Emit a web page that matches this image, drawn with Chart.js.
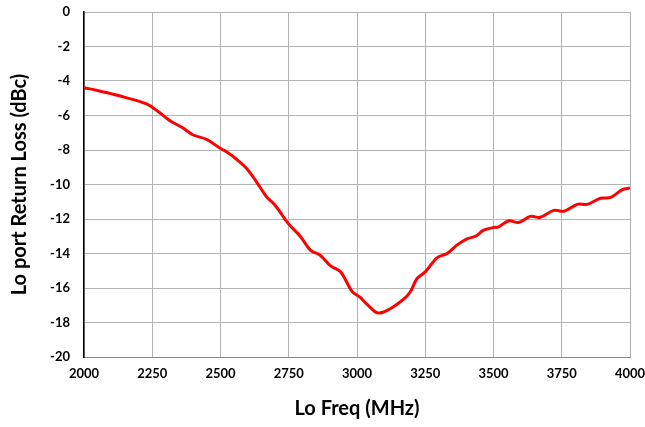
<!DOCTYPE html>
<html>
<head>
<meta charset="utf-8">
<script src="https://cdn.jsdelivr.net/npm/chart.js@4"></script>
<style>
  html, body { margin: 0; padding: 0; background: #fff; }
  #wrap { width: 645px; height: 427px; }
</style>
</head>
<body>
<div id="wrap"><canvas id="chart" width="645" height="427"></canvas></div>
<script>
// Lo port return loss vs LO frequency
const freqs = [2000, 2050, 2107, 2150, 2229, 2270, 2315, 2360, 2400, 2449, 2499, 2522, 2560, 2595, 2630, 2668,
  2700, 2750, 2792, 2829, 2865, 2902, 2939, 2957, 2982, 3012, 3037, 3077, 3122, 3171, 3196, 3220, 3251,
  3293, 3330, 3367, 3403, 3434, 3464, 3498, 3519, 3556, 3592, 3635, 3672, 3721, 3758, 3807, 3843, 3892,
  3929, 3972, 4000];
const returnLoss = [-4.39, -4.55, -4.77, -4.95, -5.33, -5.75, -6.3, -6.7, -7.13, -7.38, -7.9, -8.1, -8.55, -9.06, -9.8, -10.7,
  -11.2, -12.3, -13.0, -13.8, -14.1, -14.7, -15.05, -15.5, -16.2, -16.55, -16.95, -17.45, -17.2, -16.65, -16.2, -15.45, -15.05,
  -14.25, -14.0, -13.5, -13.15, -13.0, -12.65, -12.5, -12.45, -12.1, -12.2, -11.85, -11.9, -11.5, -11.55, -11.15, -11.15, -10.8,
  -10.75, -10.3, -10.2];
const xTicks = [2000, 2250, 2500, 2750, 3000, 3250, 3500, 3750, 4000];
const yTicks = [0, -2, -4, -6, -8, -10, -12, -14, -16, -18, -20];

const points = freqs.map((f, i) => ({ x: f, y: returnLoss[i] }));
const fontFam = 'Lato, "Open Sans", sans-serif';

new Chart(document.getElementById('chart'), {
  type: 'line',
  data: {
    datasets: [{
      data: points,
      borderColor: '#ff0000',
      borderWidth: 3,
      pointRadius: 0,
      tension: 0.35,
      fill: false
    }]
  },
  options: {
    responsive: false,
    animation: false,
    layout: { autoPadding: false, padding: { left: 0, right: 15, top: 12, bottom: 0 } },
    plugins: { legend: { display: false }, tooltip: { enabled: false } },
    scales: {
      x: {
        type: 'linear',
        min: 2000, max: 4000,
        afterBuildTicks: s => { s.ticks = xTicks.map(v => ({ value: v })); },
        afterFit: s => { s.height = 70; s.paddingLeft = 0; s.paddingRight = 0; },
        grid: { color: '#b3b3b3', lineWidth: 1, drawTicks: false },
        border: { color: '#888', width: 1 },
        ticks: { color: '#000', padding: 9, maxRotation: 0, callback: v => String(v),
          font: { family: fontFam, size: 13, weight: 'bold' } },
        title: { display: true, text: 'Lo Freq (MHz)', color: '#000', padding: { top: 4, bottom: 6 },
          font: { family: fontFam, size: 20, weight: 'bold' } }
      },
      y: {
        min: -20, max: 0,
        afterBuildTicks: s => { s.ticks = yTicks.map(v => ({ value: v })); },
        afterFit: s => { s.width = 84; s.paddingTop = 0; s.paddingBottom = 0; },
        grid: { color: '#b3b3b3', lineWidth: 1, drawTicks: false },
        border: { color: '#000', width: 1.5 },
        ticks: { color: '#000', padding: 14, callback: v => String(v),
          font: { family: fontFam, size: 13, weight: 'bold' } },
        title: { display: true, text: 'Lo port Return Loss (dBc)', color: '#000', padding: { top: 8, bottom: 4 },
          font: { family: fontFam, size: 20, weight: 'bold' } }
      }
    }
  }
});
</script>
</body>
</html>
